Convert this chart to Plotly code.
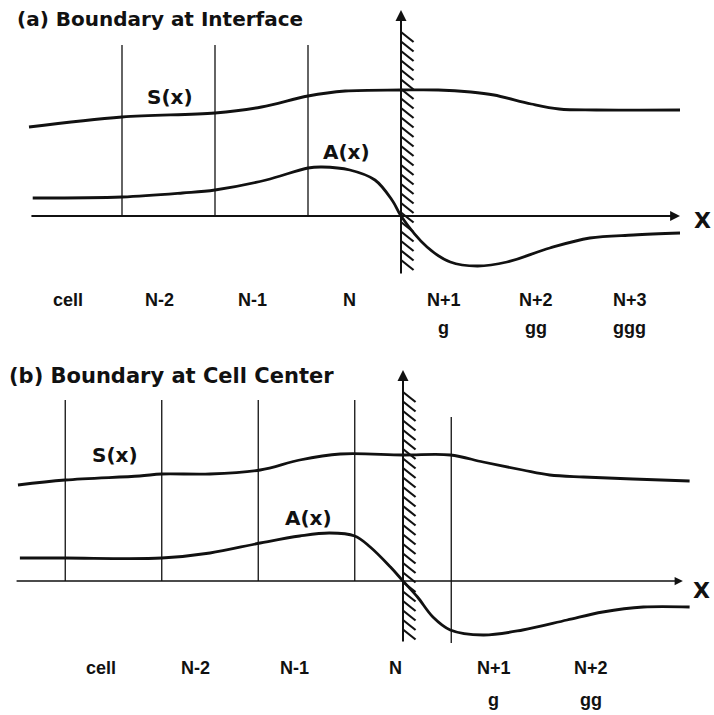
import numpy as np
import plotly.graph_objects as go

# ---------------- Panel (a): boundary at interface ----------------
# x measured in cell widths, boundary at x = 0
xa_S = [-4.0, -3.0, -2.0, -1.5, -1.0, -0.6, 0.0, 0.4, 0.75, 1.0, 1.4, 1.7, 2.1, 3.0]
Sa = [1.78, 1.98, 2.06, 2.18, 2.40, 2.50, 2.52, 2.52, 2.48, 2.42, 2.24, 2.14, 2.12, 2.12]
xa_A = [-3.96, -3.0, -2.35, -2.0, -1.45, -1.0, -0.85, -0.55, -0.28, -0.09, 0.0,
        0.28, 0.53, 0.82, 1.14, 1.6, 2.03, 2.5, 3.0]
Aa = [0.36, 0.38, 0.46, 0.52, 0.72, 0.96, 0.98, 0.92, 0.72, 0.30, 0.0,
      -0.62, -0.92, -1.0, -0.92, -0.64, -0.44, -0.38, -0.34]
edges_a = [-3.0, -2.0, -1.0]
labels_a = ["cell", "N-2", "N-1", "N", "N+1", "N+2", "N+3"]
label_x_a = [-3.58, -2.6, -1.6, -0.55, 0.46, 1.45, 2.46]
ghost_a = ["g", "gg", "ggg"]
ghost_x_a = [0.46, 1.45, 2.46]

# ---------------- Panel (b): boundary at cell center ----------------
xb_S = [-3.99, -3.5, -2.73, -2.5, -2.0, -1.48, -1.07, -0.65, 0.0, 0.49, 0.83,
        1.24, 1.52, 1.87, 2.38, 2.97]
Sb = [1.92, 2.02, 2.10, 2.14, 2.14, 2.22, 2.42, 2.54, 2.52, 2.52, 2.38,
      2.22, 2.12, 2.08, 2.04, 2.0]
xb_A = [-3.97, -3.5, -2.5, -2.0, -1.48, -1.07, -0.76, -0.5, -0.34, -0.13, 0.0,
        0.15, 0.31, 0.49, 0.83, 1.24, 1.7, 2.07, 2.49, 2.97]
Ab = [0.46, 0.46, 0.46, 0.56, 0.76, 0.90, 0.96, 0.90, 0.68, 0.28, 0.0,
      -0.32, -0.72, -0.98, -1.08, -0.98, -0.78, -0.62, -0.52, -0.52]
edges_b = [-3.5, -2.5, -1.5, -0.5]
edge_ghost_b = [0.5]
labels_b = ["cell", "N-2", "N-1", "N", "N+1", "N+2"]
label_x_b = [-3.13, -2.15, -1.12, -0.08, 0.94, 1.95]
ghost_b = ["g", "gg"]
ghost_x_b = [0.94, 1.95]

BLACK = "#111111"
TITLE_FONT = dict(family="DejaVu Sans", size=20, color=BLACK, weight="bold")
TITLE_FONT_B = dict(family="DejaVu Sans", size=21, color=BLACK, weight="bold")
CURVE_FONT = dict(family="DejaVu Sans", size=20, color=BLACK, weight="bold")
CELL_FONT = dict(family="Liberation Sans", size=18, color=BLACK, weight="bold")
X_FONT = dict(family="DejaVu Sans", size=22, color=BLACK, weight="bold")

fig = go.Figure()


def segs(xs0, ys0, xs1, ys1):
    X, Y = [], []
    for a, b, c, d in zip(xs0, ys0, xs1, ys1):
        X += [a, c, None]
        Y += [b, d, None]
    return X, Y


def add_panel(xr, yr, xS, S, xA, A, edges, edge_top, extra_edges, extra_bot, extra_top,
              ax_bot, hatch_top, hatch_dx):
    # cell boundary lines
    X, Y = segs(edges, [0] * len(edges), edges, [edge_top] * len(edges))
    if extra_edges:
        X2, Y2 = segs(extra_edges, [extra_bot] * len(extra_edges),
                      extra_edges, [extra_top] * len(extra_edges))
        X += X2
        Y += Y2
    fig.add_trace(go.Scatter(x=X, y=Y, mode="lines", line=dict(color=BLACK, width=1.3),
                             xaxis=xr, yaxis=yr, hoverinfo="skip"))
    # hatching on the right side of the boundary
    dy = 0.2
    tops = np.arange(hatch_top, ax_bot + dy - 0.01, -0.19)
    hx, hy = segs([0.0] * len(tops), list(tops), [hatch_dx] * len(tops), list(tops - dy))
    fig.add_trace(go.Scatter(x=hx, y=hy, mode="lines", line=dict(color=BLACK, width=2.2),
                             xaxis=xr, yaxis=yr, hoverinfo="skip"))
    # curves
    fig.add_trace(go.Scatter(x=xS, y=S, mode="lines",
                             line=dict(color=BLACK, width=2.8, shape="spline", smoothing=1.0),
                             xaxis=xr, yaxis=yr, hoverinfo="skip"))
    fig.add_trace(go.Scatter(x=xA, y=A, mode="lines",
                             line=dict(color=BLACK, width=2.8, shape="spline", smoothing=1.0),
                             xaxis=xr, yaxis=yr, hoverinfo="skip"))


# panel (a)
add_panel("x", "y", xa_S, Sa, xa_A, Aa, edges_a, 3.42, [], 0, 0, -1.18, 3.68, 0.135)
# panel (b)
add_panel("x2", "y2", xb_S, Sb, xb_A, Ab, edges_b, 3.62, edge_ghost_b, -1.24, 3.28, -1.24, 3.78, 0.13)

ann = []


def arrow(xref, yref, x, y, ax, ay, width):
    ann.append(dict(x=x, y=y, ax=ax, ay=ay, xref=xref, yref=yref, axref=xref, ayref=yref,
                    showarrow=True, arrowhead=2, arrowsize=1.1, arrowwidth=width,
                    arrowcolor=BLACK, text="", standoff=0, startstandoff=0))


# axes arrows
arrow("x", "y", 3.0, 0.0, -3.99, 0.0, 1.8)
arrow("x", "y", 0.0, 4.12, 0.0, -1.18, 2.0)
arrow("x2", "y2", 2.9, 0.0, -4.02, 0.0, 1.5)
arrow("x2", "y2", 0.0, 4.22, 0.0, -1.24, 2.0)


def text(xref, yref, x, y, t, font, xanchor="center"):
    ann.append(dict(x=x, y=y, xref=xref, yref=yref, text=t, showarrow=False,
                    font=font, xanchor=xanchor, yanchor="middle"))


# curve labels and X labels
text("x", "y", -2.48, 2.38, "S(x)", CURVE_FONT)
text("x", "y", -0.59, 1.28, "A(x)", CURVE_FONT)
text("x", "y", 3.24, -0.08, "X", X_FONT)
text("x2", "y2", -2.98, 2.52, "S(x)", CURVE_FONT)
text("x2", "y2", -0.98, 1.26, "A(x)", CURVE_FONT)
text("x2", "y2", 3.2, -0.18, "X", X_FONT, xanchor="right")

# cell labels
for xv, t in zip(label_x_a, labels_a):
    text("x", "y", xv, -1.68, t, CELL_FONT)
for xv, t in zip(ghost_x_a, ghost_a):
    text("x", "y", xv, -2.24, t, CELL_FONT)
for xv, t in zip(label_x_b, labels_b):
    text("x2", "y2", xv, -1.74, t, CELL_FONT)
for xv, t in zip(ghost_x_b, ghost_b):
    text("x2", "y2", xv, -2.38, t, CELL_FONT)

# titles
ann.append(dict(x=15 / 714, y=1 - 19 / 715, xref="paper", yref="paper", showarrow=False,
                text="(a) Boundary at Interface", font=TITLE_FONT, xanchor="left", yanchor="middle"))
ann.append(dict(x=7 / 714, y=1 - 376 / 715, xref="paper", yref="paper", showarrow=False,
                text="(b) Boundary at Cell Center", font=TITLE_FONT_B, xanchor="left", yanchor="middle"))

hidden = dict(visible=False, showgrid=False, zeroline=False, fixedrange=True)
fig.update_layout(
    width=714, height=715,
    margin=dict(l=0, r=0, t=0, b=0),
    paper_bgcolor="white", plot_bgcolor="white",
    showlegend=False,
    xaxis=dict(domain=[0, 1], range=[-401 / 93, 313 / 93], anchor="y", **hidden),
    yaxis=dict(domain=[1 - 350 / 715, 1], range=[-2.68, 4.32], anchor="x", **hidden),
    xaxis2=dict(domain=[0, 1], range=[-403 / 96.5, 311 / 96.5], anchor="y2", **hidden),
    yaxis2=dict(domain=[0, 1 - 350 / 715], range=[-2.68, 4.62], anchor="x2", **hidden),
    annotations=ann,
)

fig.write_html("out.html")
